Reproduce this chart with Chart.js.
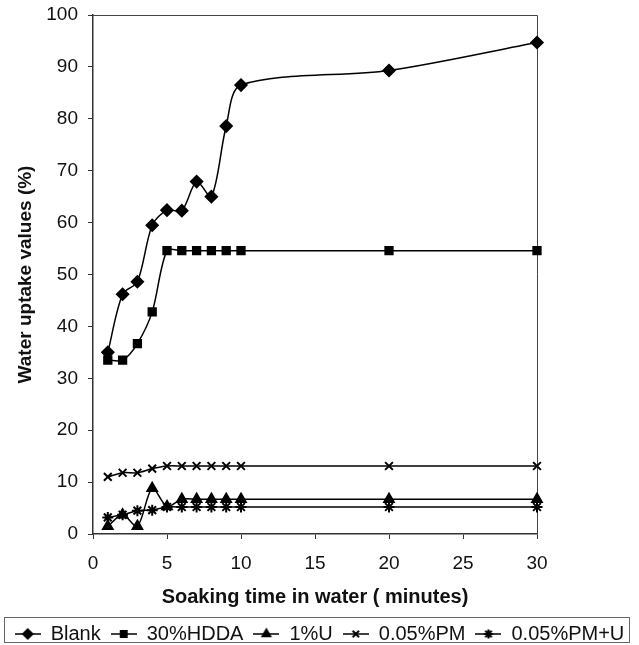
<!DOCTYPE html>
<html lang="en">
<head>
<meta charset="UTF-8">
<title>Water uptake vs soaking time</title>
<script src="https://cdn.jsdelivr.net/npm/chart.js"></script>
<style>
  body { margin: 0; background: #fff; }
  canvas { display: block; }
</style>
</head>
<body>
<canvas id="uptake" width="639" height="645"></canvas>
<script>
// soaking time in water (minutes)
const soakTime = [1, 2, 3, 4, 5, 6, 7, 8, 9, 10, 20, 30];

// water uptake values (%) for each formulation
const blank  = [35.0, 46.2, 48.6, 59.5, 62.4, 62.3, 67.9, 65.0, 78.6, 86.5, 89.3, 94.7];
const hdda30 = [33.5, 33.5, 36.7, 42.8, 54.6, 54.6, 54.6, 54.6, 54.6, 54.6, 54.6, 54.6];
const u1     = [1.5, 3.7, 1.5, 8.8, 5.3, 6.7, 6.7, 6.7, 6.7, 6.7, 6.7, 6.7];
const pm005  = [11.0, 11.8, 11.8, 12.6, 13.1, 13.1, 13.1, 13.1, 13.1, 13.1, 13.1, 13.1];
const pmU005 = [3.2, 3.7, 4.5, 4.6, 5.2, 5.2, 5.2, 5.2, 5.2, 5.2, 5.2, 5.2];

const seriesNames = ['Blank', '30%HDDA', '1%U', '0.05%PM', '0.05%PM+U'];
const seriesData = [blank, hdda30, u1, pm005, pmU005];

// axis tick values
const xTickValues = [0, 5, 10, 15, 20, 25, 30];
const yTickValues = [0, 10, 20, 30, 40, 50, 60, 70, 80, 90, 100];

const markers = ['rectRot', 'rect', 'triangle', 'crossRot', 'star'];
const markerRadius = [6, 5.5, 6, 5.5, 5.5];
const markerStroke = [1.5, 1.5, 1.5, 2, 2];

Chart.defaults.font.family = '"Liberation Sans", Arial, sans-serif';
Chart.defaults.color = '#111';

const ICON_W = 26;

// small "line + marker" icon for each legend entry
function legendIcon(style, radius, stroke) {
  const c = document.createElement('canvas');
  c.width = ICON_W; c.height = 14;
  const g = c.getContext('2d');
  g.strokeStyle = '#000';
  g.fillStyle = '#000';
  g.lineWidth = 1.5;
  g.beginPath();
  g.moveTo(0, 7); g.lineTo(ICON_W, 7);
  g.stroke();
  g.lineWidth = stroke;
  Chart.helpers.drawPoint(g, {pointStyle: style, radius: radius - 1, rotation: 0, borderWidth: stroke}, ICON_W / 2, 7);
  return c;
}
const icons = markers.map((m, i) => legendIcon(m, markerRadius[i], markerStroke[i]));

// top and right edges of the plot box
const plotFrame = {
  id: 'plotFrame',
  beforeDatasetsDraw(chart) {
    const {ctx, chartArea: a} = chart;
    ctx.save();
    ctx.strokeStyle = '#444';
    ctx.lineWidth = 1;
    ctx.beginPath();
    ctx.moveTo(a.left, Math.round(a.top) + 0.5);
    ctx.lineTo(Math.round(a.right) + 0.5, Math.round(a.top) + 0.5);
    ctx.lineTo(Math.round(a.right) + 0.5, a.bottom);
    ctx.stroke();
    ctx.restore();
  }
};

// box around the legend row
const legendFrame = {
  id: 'legendFrame',
  afterDraw(chart) {
    const boxes = chart.legend.legendHitBoxes;
    if (!boxes || !boxes.length) return;
    const first = boxes[0], last = boxes[boxes.length - 1];
    const x0 = Math.round(first.left - 11), x1 = Math.round(last.left + last.width + 5);
    const y0 = Math.round(first.top - 7), y1 = Math.round(first.top + first.height - 2);
    const ctx = chart.ctx;
    ctx.save();
    ctx.strokeStyle = '#666';
    ctx.lineWidth = 1;
    ctx.strokeRect(x0 + 0.5, y0 + 0.5, x1 - x0, y1 - y0);
    ctx.restore();
  }
};

new Chart(document.getElementById('uptake'), {
  type: 'line',
  data: {
    datasets: seriesNames.map((name, i) => ({
      label: name,
      data: seriesData[i].map((v, j) => ({x: soakTime[j], y: v})),
      borderColor: '#000',
      backgroundColor: '#000',
      borderWidth: 1.5,
      pointStyle: markers[i],
      pointRadius: markerRadius[i],
      pointHoverRadius: markerRadius[i],
      pointBorderWidth: markerStroke[i],
      tension: 0.3,
      clip: false
    }))
  },
  options: {
    responsive: false,
    devicePixelRatio: 1,
    animation: false,
    layout: { padding: { top: 15, left: 0, right: 0, bottom: -9 } },
    plugins: {
      tooltip: { enabled: false },
      legend: {
        position: 'bottom',
        labels: {
          usePointStyle: true,
          pointStyleWidth: ICON_W,
          padding: 10,
          color: '#111',
          font: { size: 20 },
          generateLabels(chart) {
            const items = Chart.defaults.plugins.legend.labels.generateLabels(chart);
            items.forEach((it, i) => { it.pointStyle = icons[i]; });
            return items;
          }
        }
      }
    },
    scales: {
      x: {
        type: 'linear',
        min: 0,
        max: 30,
        afterBuildTicks(scale) { scale.ticks = xTickValues.map(v => ({value: v})); },
        afterFit(scale) { scale.height = 80; },
        grid: { drawOnChartArea: false, drawTicks: true, tickLength: 5, color: '#333' },
        border: { display: true, color: '#333', width: 1.5 },
        ticks: { font: { size: 19 }, padding: 13, maxRotation: 0, color: '#111' },
        title: {
          display: true,
          text: 'Soaking time in water ( minutes)',
          font: { size: 20, weight: 'bold' },
          color: '#111',
          padding: { top: 0, bottom: 5 }
        }
      },
      y: {
        min: 0,
        max: 100,
        afterBuildTicks(scale) { scale.ticks = yTickValues.map(v => ({value: v})); },
        afterFit(scale) {
          scale.width = 93;
          scale.paddingTop = 0;
          scale.paddingBottom = 0;
        },
        grid: { drawOnChartArea: false, drawTicks: true, tickLength: 5, color: '#333' },
        border: { display: true, color: '#333', width: 1.5 },
        ticks: { font: { size: 19 }, padding: 10, color: '#111' },
        title: {
          display: true,
          text: 'Water uptake values (%)',
          font: { size: 19, weight: 'bold' },
          color: '#111',
          padding: { top: 14, bottom: 0 }
        }
      },
      // empty space to the right of the plot box
      spacer: {
        type: 'linear',
        position: 'right',
        display: true,
        grid: { display: false },
        border: { display: false },
        ticks: { display: false },
        afterFit(scale) {
          scale.width = 102;
          scale.paddingTop = 0;
          scale.paddingBottom = 0;
        }
      }
    }
  },
  plugins: [plotFrame, legendFrame]
});
</script>
</body>
</html>
